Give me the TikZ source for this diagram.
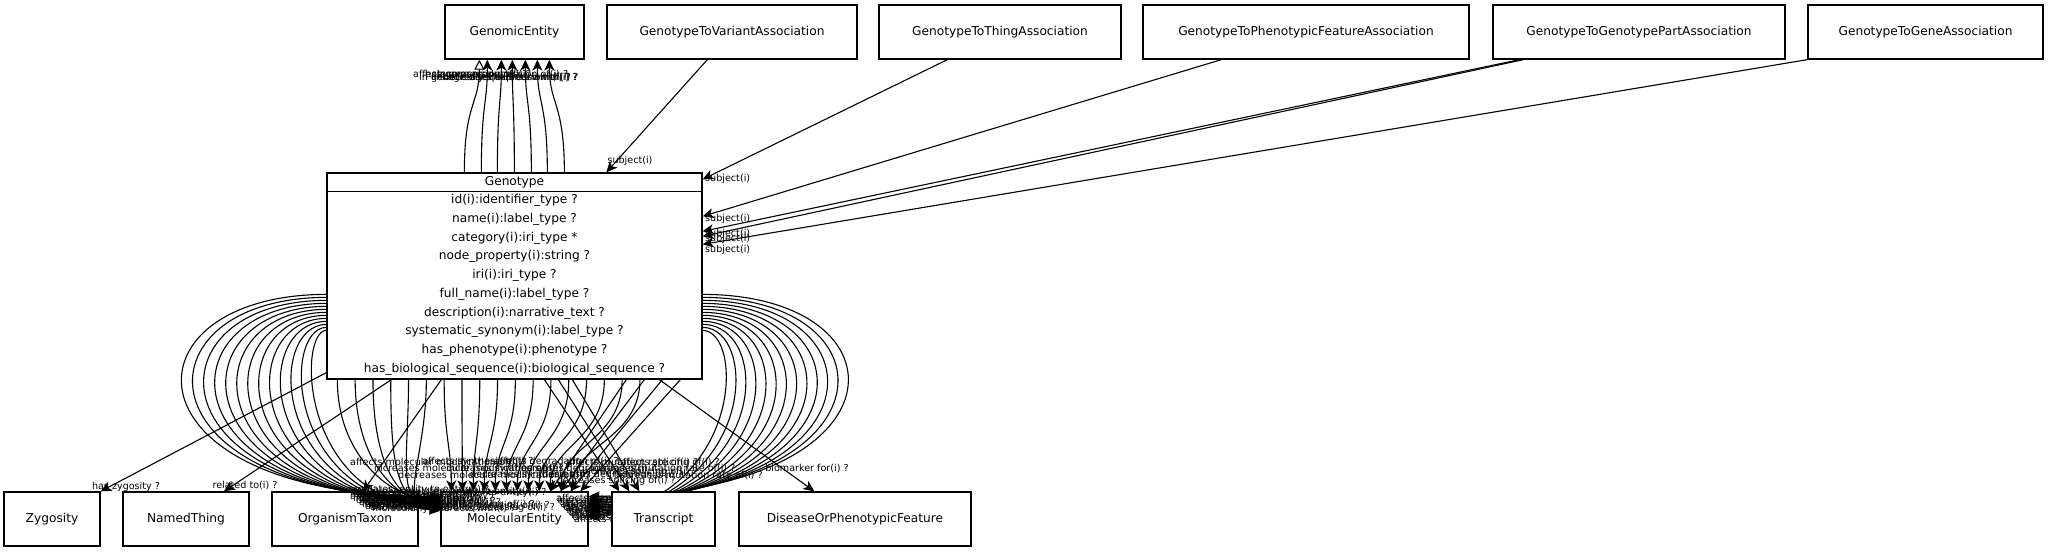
\documentclass[tikz,border=0pt]{standalone}
\usepackage{fontspec}
\setmainfont{DejaVu Sans}
\usetikzlibrary{arrows.meta,calc}
\begin{document}
\begin{tikzpicture}[x=1pt,y=-1pt,
  box/.style={draw, line width=1.3pt, fill=white, inner sep=0pt, minimum height=54pt, font=\fontsize{12.2}{14}\selectfont},
  arr/.style={line width=1.1pt, -{Stealth[length=11pt,width=10pt,inset=3pt]}},
  isa/.style={line width=1.1pt, -{Triangle[open,length=10pt,width=10pt]}},
  lbl/.style={font=\fontsize{9.6}{10}\selectfont, inner sep=0pt},
  fld/.style={font=\fontsize{12.2}{14}\selectfont, inner sep=0pt}]
\useasboundingbox (0,0) rectangle (2048,553);
\fill[white] (0,0) rectangle (2048,553);
% top row
\node[box, minimum width=139pt] (genomic) at (514.5,32) {GenomicEntity};
\node[box, minimum width=250pt] (gtva) at (732,32) {GenotypeToVariantAssociation};
\node[box, minimum width=242pt] (gtta) at (1000,32) {GenotypeToThingAssociation};
\node[box, minimum width=326pt] (gtpfa) at (1306,32) {GenotypeToPhenotypicFeatureAssociation};
\node[box, minimum width=292pt] (gtgpa) at (1639,32) {GenotypeToGenotypePartAssociation};
\node[box, minimum width=235pt] (gtga) at (1925.5,32) {GenotypeToGeneAssociation};
% Genotype class
\node[box, minimum width=375pt, minimum height=206pt] (genotype) at (514.5,276) {};
\draw[line width=1.3pt] ($(genotype.north west)+(0,19)$) -- ($(genotype.north east)+(0,19)$);
\node[fld] (gtitle) at ($(genotype.north)+(0,9.5)$) {Genotype};
\foreach \t [count=\k from 0] in {id(i):identifier\_type ?, name(i):label\_type ?, category(i):iri\_type *, node\_property(i):string ?, iri(i):iri\_type ?, full\_name(i):label\_type ?, description(i):narrative\_text ?, systematic\_synonym(i):label\_type ?, has\_phenotype(i):phenotype ?, has\_biological\_sequence(i):biological\_sequence ?}
  \node[fld] (fld\k) at ($(genotype.north)+(0,28.3+18.7*\k)$) {\t};
% bottom row
\node[box, minimum width=96pt] (zygosity) at (52,519) {Zygosity};
\node[box, minimum width=126pt] (namedthing) at (186,519) {NamedThing};
\node[box, minimum width=146pt] (taxon) at (345,519) {OrganismTaxon};
\node[box, minimum width=147pt] (molecular) at (514.5,519) {MolecularEntity};
\node[box, minimum width=232pt] (dopf) at (855,519) {DiseaseOrPhenotypicFeature};

% subject edges
\draw[arr] ($(gtva.south west)+(101,0)$) -- ($(genotype.north west)+(280,0)$);
\node[lbl] (s1) at (630,161) {subject(i)};
\draw[arr] ($(gtta.south west)+(69,0)$) -- ($(genotype.north east)+(0,7)$);
\node[lbl, anchor=west] (s2) at (705,179) {subject(i)};
\draw[arr] ($(gtpfa.south west)+(79,0)$) -- ($(genotype.north east)+(0,44)$);
\node[lbl, anchor=west] (s3) at (705,219) {subject(i)};
\draw[arr] ($(gtgpa.south west)+(27,0)$) -- ($(genotype.north east)+(0,59)$);
\node[lbl, anchor=west] (s4) at (705,234) {subject(i)};
\draw[arr] ($(gtgpa.south west)+(31,0)$) -- ($(genotype.north east)+(0,64)$);
\node[lbl, anchor=west] (s5) at (705,239) {subject(i)};
\draw[arr] (gtga.south west) -- ($(genotype.north east)+(0,72)$);
\node[lbl, anchor=west] (s6) at (705,250) {subject(i)};

% edges to GenomicEntity
\foreach \sx/\ex [count=\k] in {465/480,482/488,498/502,515/513,532/526,548/538,565/550}{
  \ifnum\k=1 \def\st{isa}\else\def\st{arr}\fi
  \draw[style=\st] ($(genotype.north west)+(\sx-327,0)$) .. controls +(0,-70) and +(0,45) .. ($(genomic.south west)+(\ex-445,0)$);
}
\foreach \t [count=\k from 0] in {affects expression of(i) ?, in linkage disequilibrium with(i) ?, has gene product(i) ?, genetically interacts with(i) ?, increases expression of(i) ?, decreases expression of(i) ?}{
  \pgfmathsetmacro\yy{75+mod(\k,2)*2.5}
  \node[lbl, anchor=west] (ge\k) at (413+6*\k, \yy) {\t};
}

% single edges to bottom row
\draw[arr] ($(genotype.south west)+(0,-7)$) -- (zygosity.north east);
\node[lbl] (lz) at (126,487) {has zygosity ?};
\draw[arr] ($(genotype.south west)+(65,0)$) -- ($(namedthing.north)+(38,0)$);
\node[lbl] (lr) at (245,485) {related to(i) ?};
\draw[arr] ($(genotype.south west)+(115,0)$) -- ($(taxon.north)+(18,0)$);
\draw[arr] ($(genotype.south west)+(333,0)$) -- ($(dopf.north west)+(76,0)$);
\node[lbl] (lb) at (807,468) {biomarker for(i) ?};

% left outer loops to MolecularEntity
\foreach \t [count=\k from 0] in {{regulates, entity to entity(i) ?}, {positively regulates, entity to entity(i) ?}, {negatively regulates, entity to entity(i) ?}, affects abundance of(i) ?, increases abundance of(i) ?, decreases abundance of(i) ?, affects localization of(i) ?, increases localization of(i) ?, decreases localization of(i) ?, affects metabolic processing of(i) ?, increases metabolic processing of(i) ?, decreases metabolic processing of(i) ?, molecularly interacts with(i) ?}{
  \pgfmathsetmacro\ys{122+3*\k}
  \pgfmathsetmacro\c{118+15*\k}
  \pgfmathsetmacro\ey{5+1.2*\k}
  \pgfmathsetmacro\yabs{\ys+173}
  \pgfmathsetmacro\xx{348+2*\k}
  \pgfmathsetmacro\yy{490+1.6*\k}
  \draw[arr] ($(genotype.north west)+(0,\ys)$) .. controls (\c,\yabs) and (\c,497) .. ($(molecular.north west)+(0,\ey)$);
  \node[lbl, anchor=west] (ll\k) at (\xx, \yy) {\t};
}
% curves from the bottom of Genotype
\foreach \t [count=\k from 0] in {affects activity of(i) ?, increases activity of(i) ?, decreases activity of(i) ?, affects folding of(i) ?, increases folding of(i) ?, decreases folding of(i) ?, affects molecular modification of(i) ?, increases molecular modification of(i) ?, decreases molecular modification of(i) ?, affects synthesis of(i) ?, increases synthesis of(i) ?, decreases synthesis of(i) ?, affects degradation of(i) ?, increases degradation of(i) ?, decreases degradation of(i) ?, affects mutation rate of(i) ?, increases mutation rate of(i) ?, decreases mutation rate of(i) ?}{
  \pgfmathsetmacro\sx{11+17.8*\k}
  \ifnum\k<6
    \pgfmathsetmacro\ey{9+1.6*\k}
    \pgfmathsetmacro\xx{350+3*\k}
    \pgfmathsetmacro\yy{497+2*\k}
    \draw[arr] ($(genotype.south west)+(\sx,0)$) .. controls +(0,80) and +(-45,0) .. ($(molecular.north west)+(0,\ey)$);
    \node[lbl, anchor=west] (lb\k) at (\xx, \yy) {\t};
  \else
    \pgfmathsetmacro\ex{11+11*(\k-6)}
    \pgfmathsetmacro\xx{350+24*(\k-6)}
    \pgfmathsetmacro\yy{462+mod(\k,3)*6.5}
    \draw[arr] ($(genotype.south west)+(\sx,0)$) .. controls +(0,60) and +(0,-45) .. ($(molecular.north west)+(\ex,0)$);
    \node[lbl, anchor=west] (lb\k) at (\xx, \yy) {\t};
  \fi
}
% crossing straight edges to MolecularEntity
\foreach \k in {0,...,3}{
  \pgfmathsetmacro\sx{300+18*\k}
  \pgfmathsetmacro\ex{110+10*\k}
  \draw[arr] ($(genotype.south west)+(\sx,0)$) -- ($(molecular.north west)+(\ex,0)$);
}
% right outer loops
\foreach \t [count=\k from 0] in {affects transport of(i) ?, increases transport of(i) ?, decreases transport of(i) ?, affects secretion of(i) ?, increases secretion of(i) ?, decreases secretion of(i) ?, affects uptake of(i) ?, increases uptake of(i) ?, decreases uptake of(i) ?, affects stability of(i) ?, increases stability of(i) ?, decreases stability of(i) ?, affects response to(i) ?}{
  \pgfmathsetmacro\ys{122+3*\k}
  \pgfmathsetmacro\c{912-14*\k}
  \pgfmathsetmacro\ey{5+1.8*\k}
  \pgfmathsetmacro\yabs{\ys+173}
  \pgfmathsetmacro\xx{556+1.5*\k}
  \pgfmathsetmacro\yy{499+1.7*\k}
  \draw[arr] ($(genotype.north east)+(0,\ys)$) .. controls (\c,\yabs) and (\c,495) .. ($(molecular.north east)+(0,\ey)$);
  \node[lbl, anchor=west] (lr\k) at (\xx, \yy) {\t};
}
% Transcript drawn over the loops
\node[box, minimum width=103pt] (transcript) at (663.5,519) {Transcript};
\foreach \t [count=\k from 0] in {affects splicing of(i) ?, increases splicing of(i) ?, decreases splicing of(i) ?}{
  \pgfmathsetmacro\sx{218+14*\k}
  \pgfmathsetmacro\ex{8+10*\k}
  \pgfmathsetmacro\xx{720-22*\k}
  \pgfmathsetmacro\yy{463+9*\k}
  \draw[arr] ($(genotype.south west)+(\sx,0)$) -- ($(transcript.north west)+(\ex,0)$);
  \node[lbl, anchor=east] (lt\k) at (\xx, \yy) {\t};
}
\end{tikzpicture}
\end{document}
